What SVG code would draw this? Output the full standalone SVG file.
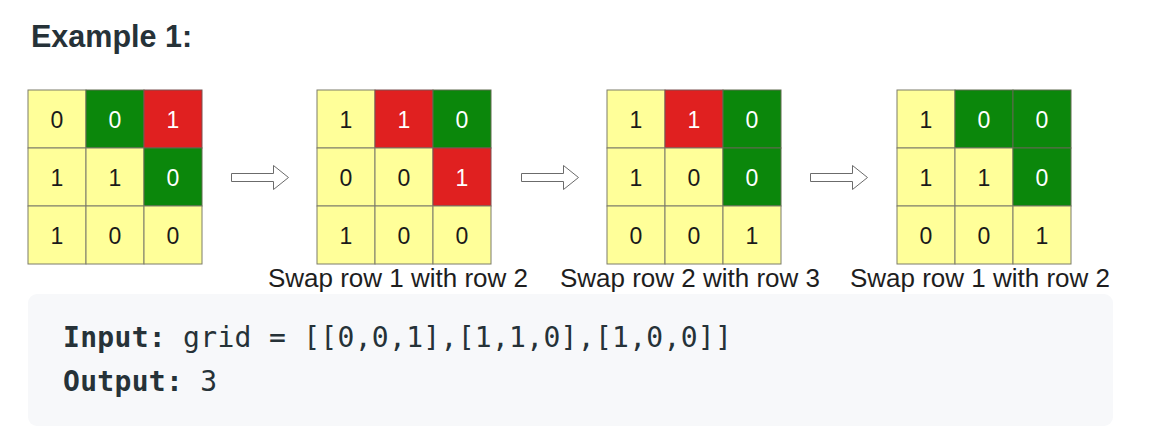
<svg xmlns="http://www.w3.org/2000/svg" width="1160" height="442" viewBox="0 0 1160 442">
  <style>
    .y { fill: #ffff99; stroke: #7d7d6a; stroke-width: 1; }
    .g { fill: #0b870b; stroke: #5f6b4f; stroke-width: 1; }
    .r { fill: #e02020; stroke: #7d5050; stroke-width: 1; }
    .d { font-family: "Liberation Sans", Arial, sans-serif; font-size: 23px; text-anchor: middle; fill: #1a1a1a; }
    .w { fill: #ffffff; }
    .cap { font-family: "Liberation Sans", Arial, sans-serif; font-size: 26px; text-anchor: middle; fill: #1e1e1e; }
    .arrow { fill: #ffffff; stroke: #6b6b6b; stroke-width: 1; }
    .code { font-family: "DejaVu Sans Mono", "Liberation Mono", monospace; font-size: 28px; letter-spacing: 0.3px; fill: #263238; }
    .b { font-weight: bold; }
  </style>
  <rect width="1160" height="442" fill="#ffffff"/>

  <g id="title">
    <text x="31" y="47" font-family="'Liberation Sans', Arial, sans-serif" font-weight="bold" font-size="30.5" fill="#263238">Example 1:</text>
  </g>

  <!-- Grid 1 -->
  <g id="grid1" transform="translate(28,90)">
    <rect class="y" x="0" y="0" width="58" height="58"/>
    <rect class="g" x="58" y="0" width="58" height="58"/>
    <rect class="r" x="116" y="0" width="58" height="58"/>
    <rect class="y" x="0" y="58" width="58" height="58"/>
    <rect class="y" x="58" y="58" width="58" height="58"/>
    <rect class="g" x="116" y="58" width="58" height="58"/>
    <rect class="y" x="0" y="116" width="58" height="58"/>
    <rect class="y" x="58" y="116" width="58" height="58"/>
    <rect class="y" x="116" y="116" width="58" height="58"/>
    <text class="d" x="29" y="38">0</text>
    <text class="d w" x="87" y="38">0</text>
    <text class="d w" x="145" y="38">1</text>
    <text class="d" x="29" y="96">1</text>
    <text class="d" x="87" y="96">1</text>
    <text class="d w" x="145" y="96">0</text>
    <text class="d" x="29" y="154">1</text>
    <text class="d" x="87" y="154">0</text>
    <text class="d" x="145" y="154">0</text>
  </g>

  <!-- Grid 2 -->
  <g id="grid2" transform="translate(317,90)">
    <rect class="y" x="0" y="0" width="58" height="58"/>
    <rect class="r" x="58" y="0" width="58" height="58"/>
    <rect class="g" x="116" y="0" width="58" height="58"/>
    <rect class="y" x="0" y="58" width="58" height="58"/>
    <rect class="y" x="58" y="58" width="58" height="58"/>
    <rect class="r" x="116" y="58" width="58" height="58"/>
    <rect class="y" x="0" y="116" width="58" height="58"/>
    <rect class="y" x="58" y="116" width="58" height="58"/>
    <rect class="y" x="116" y="116" width="58" height="58"/>
    <text class="d" x="29" y="38">1</text>
    <text class="d w" x="87" y="38">1</text>
    <text class="d w" x="145" y="38">0</text>
    <text class="d" x="29" y="96">0</text>
    <text class="d" x="87" y="96">0</text>
    <text class="d w" x="145" y="96">1</text>
    <text class="d" x="29" y="154">1</text>
    <text class="d" x="87" y="154">0</text>
    <text class="d" x="145" y="154">0</text>
  </g>

  <!-- Grid 3 -->
  <g id="grid3" transform="translate(607,90)">
    <rect class="y" x="0" y="0" width="58" height="58"/>
    <rect class="r" x="58" y="0" width="58" height="58"/>
    <rect class="g" x="116" y="0" width="58" height="58"/>
    <rect class="y" x="0" y="58" width="58" height="58"/>
    <rect class="y" x="58" y="58" width="58" height="58"/>
    <rect class="g" x="116" y="58" width="58" height="58"/>
    <rect class="y" x="0" y="116" width="58" height="58"/>
    <rect class="y" x="58" y="116" width="58" height="58"/>
    <rect class="y" x="116" y="116" width="58" height="58"/>
    <text class="d" x="29" y="38">1</text>
    <text class="d w" x="87" y="38">1</text>
    <text class="d w" x="145" y="38">0</text>
    <text class="d" x="29" y="96">1</text>
    <text class="d" x="87" y="96">0</text>
    <text class="d w" x="145" y="96">0</text>
    <text class="d" x="29" y="154">0</text>
    <text class="d" x="87" y="154">0</text>
    <text class="d" x="145" y="154">1</text>
  </g>

  <!-- Grid 4 -->
  <g id="grid4" transform="translate(897,90)">
    <rect class="y" x="0" y="0" width="58" height="58"/>
    <rect class="g" x="58" y="0" width="58" height="58"/>
    <rect class="g" x="116" y="0" width="58" height="58"/>
    <rect class="y" x="0" y="58" width="58" height="58"/>
    <rect class="y" x="58" y="58" width="58" height="58"/>
    <rect class="g" x="116" y="58" width="58" height="58"/>
    <rect class="y" x="0" y="116" width="58" height="58"/>
    <rect class="y" x="58" y="116" width="58" height="58"/>
    <rect class="y" x="116" y="116" width="58" height="58"/>
    <text class="d" x="29" y="38">1</text>
    <text class="d w" x="87" y="38">0</text>
    <text class="d w" x="145" y="38">0</text>
    <text class="d" x="29" y="96">1</text>
    <text class="d" x="87" y="96">1</text>
    <text class="d w" x="145" y="96">0</text>
    <text class="d" x="29" y="154">0</text>
    <text class="d" x="87" y="154">0</text>
    <text class="d" x="145" y="154">1</text>
  </g>

  <g id="connectors">
    <path class="arrow" d="M231.5,173.5 H273.5 V165.5 L288.5,177.5 L273.5,189.5 V181.5 H231.5 Z"/>
    <path class="arrow" d="M521.5,173.5 H563.5 V165.5 L578.5,177.5 L563.5,189.5 V181.5 H521.5 Z"/>
    <path class="arrow" d="M810.5,173.5 H852.5 V165.5 L867.5,177.5 L852.5,189.5 V181.5 H810.5 Z"/>
  </g>

  <g id="captions">
    <text class="cap" x="398" y="287">Swap row 1 with row 2</text>
    <text class="cap" x="690" y="287">Swap row 2 with row 3</text>
    <text class="cap" x="980" y="287">Swap row 1 with row 2</text>
  </g>

  <g id="code-block">
    <rect x="28" y="294" width="1085" height="132" rx="9" fill="#f7f8fa"/>
    <text class="code" x="63" y="347" xml:space="preserve"><tspan class="b">Input:</tspan> grid = [[0,0,1],[1,1,0],[1,0,0]]</text>
    <text class="code" x="63" y="391" xml:space="preserve"><tspan class="b">Output:</tspan> 3</text>
  </g>
</svg>
